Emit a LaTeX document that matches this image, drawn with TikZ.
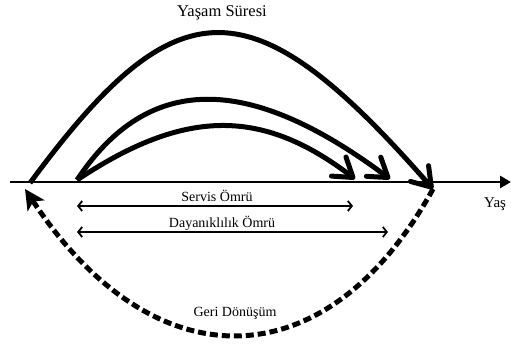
\documentclass[tikz,border=0pt]{standalone}
\usepackage{fontspec}
\setmainfont{Liberation Serif}
\usetikzlibrary{arrows.meta}

\tikzset{
  arch/.style={line width=5pt,-{Straight Barb[length=18pt,width=24pt,round]}},
  span/.style={line width=1.8pt,{Straight Barb[length=4pt,width=10pt]}-{Straight Barb[length=4pt,width=10pt]}},
  lbl/.style={font=\fontsize{14}{16}\selectfont,inner sep=1pt}
}

\begin{document}
\begin{tikzpicture}[x=1pt,y=-1pt,>=Stealth]
  \useasboundingbox (0,0) rectangle (511,347);
  % points on the axis
  \coordinate (start) at (10,182);
  \coordinate (stop) at (511,182);
  \coordinate (born) at (30,183);
  \coordinate (use) at (77,180);
  \coordinate (srv) at (355,179);
  \coordinate (dur) at (390,179);
  \coordinate (end) at (433,189);
  \coordinate (back) at (25,189);

  \draw[line width=2.8pt,-{Triangle[length=11pt,width=12pt]}] (start) -- (stop);
  \node[lbl,font=\fontsize{15}{17}\selectfont,anchor=west] (axis) at (483,204) {Yaş};

  \draw[arch] (born) .. controls (178,-18) and (252,-18) .. (end);
  \draw[arch] (use) .. controls (148,73) and (248,73) .. (dur);
  \draw[arch] (use) .. controls (185,108) and (262,108) .. (srv);
  \node[lbl,font=\fontsize{16.5}{18}\selectfont] (life) at (222,13) {Yaşam Süresi};

  \coordinate (s1) at (77,206);
  \coordinate (s2) at (353,206);
  \coordinate (d1) at (77,232);
  \coordinate (d2) at (388,232);
  \draw[span] (s1) -- (s2);
  \draw[span] (d1) -- (d2);
  \node[lbl] (service) at (217,196) {Servis Ömrü};
  \node[lbl] (durable) at (222,223) {Dayanıklılık Ömrü};

  \draw[line width=5pt,dash pattern=on 8pt off 4pt,-{Stealth[length=20pt,width=20pt,inset=5pt]}]
    (end) .. controls (326,383) and (153,383) .. (back);
  \node[lbl] (recycle) at (235,313) {Geri Dönüşüm};
\end{tikzpicture}
\end{document}
